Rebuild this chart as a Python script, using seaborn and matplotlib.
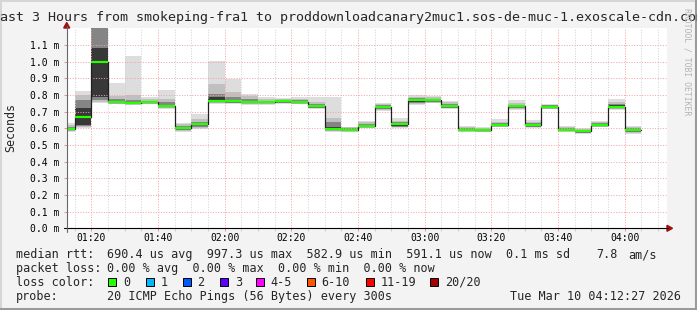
import numpy as np
import pandas as pd
import matplotlib
matplotlib.use("Agg")
import matplotlib.pyplot as plt
import seaborn as sns
from matplotlib.lines import Line2D
from matplotlib.patches import Rectangle, Polygon
from matplotlib.ticker import FixedLocator, FuncFormatter

# ---------------- data (values in ms) ----------------
view_start = "01:12:36"
view_end = "04:12:36"
step_starts = pd.date_range("2026-03-10 01:10", periods=35, freq="5min").strftime("%H:%M").tolist()

median_ms = [0.597, 0.670, 0.997, 0.757, 0.753, 0.756, 0.734, 0.600, 0.626, 0.766,
             0.761, 0.757, 0.757, 0.761, 0.758, 0.731, 0.596, 0.592, 0.614, 0.728,
             0.624, 0.768, 0.768, 0.734, 0.592, 0.588, 0.620, 0.731, 0.620, 0.730,
             0.590, 0.583, 0.620, 0.730, 0.591]
# smoke bands: outer (min..max) -> inner
smoke_lo1 = [0.575, 0.600, 0.750, 0.745, 0.742, 0.745, 0.715, 0.576, 0.595, 0.745,
             0.745, 0.742, 0.742, 0.745, 0.744, 0.716, 0.580, 0.580, 0.600, 0.706,
             0.600, 0.738, 0.750, 0.714, 0.580, 0.576, 0.606, 0.710, 0.600, 0.714,
             0.578, 0.566, 0.605, 0.710, 0.566]
smoke_hi1 = [0.630, 0.826, 2.000, 0.870, 1.034, 0.790, 0.830, 0.632, 0.687, 1.002,
             0.896, 0.806, 0.787, 0.780, 0.786, 0.790, 0.790, 0.610, 0.644, 0.754,
             0.660, 0.800, 0.795, 0.764, 0.614, 0.610, 0.654, 0.770, 0.650, 0.746,
             0.614, 0.600, 0.644, 0.778, 0.614]
smoke_lo2 = [0.582, 0.605, 0.760, 0.748, 0.745, 0.748, 0.720, 0.583, 0.600, 0.750,
             0.750, 0.745, 0.747, 0.749, 0.748, 0.720, 0.586, 0.583, 0.603, 0.712,
             0.605, 0.745, 0.753, 0.719, 0.583, 0.579, 0.609, 0.716, 0.605, 0.718,
             0.581, 0.570, 0.608, 0.715, 0.572]
smoke_hi2 = [0.620, 0.800, 1.800, 0.795, 0.800, 0.775, 0.775, 0.625, 0.655, 0.866,
             0.816, 0.795, 0.775, 0.775, 0.778, 0.755, 0.660, 0.605, 0.636, 0.745,
             0.645, 0.790, 0.785, 0.755, 0.607, 0.603, 0.640, 0.752, 0.640, 0.741,
             0.606, 0.595, 0.636, 0.755, 0.607]
smoke_lo3 = [0.588, 0.612, 0.770, 0.751, 0.748, 0.751, 0.725, 0.590, 0.610, 0.755,
             0.752, 0.750, 0.750, 0.752, 0.751, 0.724, 0.590, 0.586, 0.606, 0.718,
             0.610, 0.752, 0.757, 0.724, 0.586, 0.582, 0.612, 0.722, 0.610, 0.722,
             0.584, 0.574, 0.611, 0.720, 0.578]
smoke_hi3 = [0.610, 0.770, 1.400, 0.775, 0.770, 0.765, 0.755, 0.615, 0.640, 0.806,
             0.785, 0.775, 0.765, 0.768, 0.768, 0.745, 0.640, 0.600, 0.625, 0.738,
             0.635, 0.782, 0.778, 0.746, 0.600, 0.596, 0.630, 0.742, 0.630, 0.737,
             0.599, 0.590, 0.629, 0.746, 0.600]
smoke_lo4 = [0.592, 0.620, 0.790, 0.754, 0.750, 0.753, 0.729, 0.595, 0.618, 0.760,
             0.755, 0.752, 0.753, 0.756, 0.754, 0.727, 0.592, 0.589, 0.609, 0.722,
             0.616, 0.760, 0.762, 0.729, 0.589, 0.585, 0.616, 0.727, 0.615, 0.726,
             0.587, 0.578, 0.615, 0.725, 0.585]
smoke_hi4 = [0.603, 0.720, 1.080, 0.765, 0.760, 0.760, 0.742, 0.607, 0.632, 0.785,
             0.770, 0.765, 0.761, 0.766, 0.763, 0.737, 0.610, 0.596, 0.619, 0.733,
             0.630, 0.775, 0.774, 0.740, 0.596, 0.592, 0.625, 0.737, 0.625, 0.734,
             0.594, 0.587, 0.625, 0.737, 0.596]
smoke_colors = ["#dddddd", "#c0c0c0", "#858585", "#383838"]

y_ticks = [0.0, 0.1, 0.2, 0.3, 0.4, 0.5, 0.6, 0.7, 0.8, 0.9, 1.0, 1.1]
x_major = ["01:20", "01:40", "02:00", "02:20", "02:40", "03:00", "03:20", "03:40", "04:00"]

loss_labels = ["0", "1", "2", "3", "4-5", "6-10", "11-19", "20/20"]
loss_colors = ["#26ff00", "#00b8ff", "#0059ff", "#5e00ff", "#ff00ff", "#ff5500", "#ff0000", "#a00000"]

title = "Last 3 Hours from smokeping-fra1 to proddownloadcanary2muc1.sos-de-muc-1.exoscale-cdn.com"


def to_min(s):
    p = [int(v) for v in s.split(":")]
    while len(p) < 3:
        p.append(0)
    return p[0] * 60 + p[1] + p[2] / 60.0


W, H = 697, 310
sns.set_theme(style="white")
plt.rcParams["font.family"] = ["DejaVu Sans Mono", "DejaVu Sans"]

fig = plt.figure(figsize=(W / 100, H / 100), dpi=100, facecolor="#f3f3f3")


def fx(x):
    return x / W


def fy(y):
    return 1 - y / H


X0, X1, YT, YB = 66.7, 666.7, 27.5, 228.3
PX_PER_MS = 166.7
ax = fig.add_axes([fx(X0), fy(YB), (X1 - X0) / W, (YB - YT) / H])
ax.set_facecolor("white")
x_lo, x_hi = to_min(view_start), to_min(view_end)
ax.set_xlim(x_lo, x_hi)
ax.set_ylim(0, (YB - YT) / PX_PER_MS)

starts = [to_min(s) for s in step_starts]
edges = np.array(starts + [starts[-1] + 5])


def ext(a):
    a = np.asarray(a, float)
    return np.append(a, a[-1])


bands = [(smoke_lo1, smoke_hi1), (smoke_lo2, smoke_hi2), (smoke_lo3, smoke_hi3), (smoke_lo4, smoke_hi4)]
for (lo, hi), c in zip(bands, smoke_colors):
    ax.fill_between(edges, ext(lo), ext(hi), step="post", color=c, lw=0, zorder=1)

df = pd.DataFrame({"t": edges, "median": ext(median_ms)})
sns.lineplot(data=df, x="t", y="median", ax=ax, drawstyle="steps-post",
             color="#202020", lw=0.9, zorder=3, estimator=None)
ax.hlines(median_ms, edges[:-1], edges[1:], colors=loss_colors[0], lw=1.6, zorder=4)

# grid
ax.xaxis.set_major_locator(FixedLocator([to_min(s) for s in x_major]))
minor = np.arange(np.ceil(x_lo / 5) * 5, x_hi, 5)
ax.xaxis.set_minor_locator(FixedLocator(minor))
ax.xaxis.set_major_formatter(FuncFormatter(lambda v, p: "%02d:%02d" % (int(v // 60), int(round(v % 60)))))
ax.set_yticks(y_ticks)
ax.set_yticklabels(["%.1f m" % v for v in y_ticks])
ax.set_axisbelow("line")
ax.grid(which="minor", axis="x", color="#d2d2d2", ls=(0, (1, 1.6)), lw=0.72)
ax.grid(which="major", axis="both", color="#f2a4a4", ls=(0, (1, 1.6)), lw=0.72)
ax.yaxis.grid(True, which="major")
for s in ax.spines.values():
    s.set_visible(False)
ax.tick_params(axis="x", which="both", direction="out", length=2, width=0.7, color="#e89090", pad=1.2,
               labelsize=7.0, bottom=True)
ax.tick_params(axis="x", which="minor", color="#cccccc")
ax.tick_params(axis="y", which="both", direction="out", length=2, width=0.7, color="#e89090", pad=3.2,
               labelsize=7.0, left=True)
for lab in ax.get_xticklabels() + ax.get_yticklabels():
    lab.set_family("DejaVu Sans Mono")
    lab.set_color("black")
ax.set_xlabel("")
ax.set_ylabel("")

# axis lines and arrows
fig.add_artist(Line2D([fx(63.5), fx(668)], [fy(YB), fy(YB)], color="black", lw=0.8, transform=fig.transFigure))
fig.add_artist(Line2D([fx(X0), fx(X0)], [fy(231.5), fy(26)], color="#666666", lw=0.8, transform=fig.transFigure))
arrow_c = "#a01010"
fig.add_artist(Polygon([[fx(667), fy(YB - 3)], [fx(672.5), fy(YB)], [fx(667), fy(YB + 3)]],
                       closed=True, color=arrow_c, transform=fig.transFigure))
fig.add_artist(Polygon([[fx(X0 - 3), fy(28)], [fx(X0), fy(22.5)], [fx(X0 + 3), fy(28)]],
                       closed=True, color=arrow_c, transform=fig.transFigure))

mono = "DejaVu Sans Mono"
fig.text(fx(348.5), fy(18), title, ha="center", va="center", fontsize=9.6, family=mono)
fig.text(fx(11), fy(128), "Seconds", rotation=90, ha="center", va="center", fontsize=8.4, family=mono)
fig.text(fx(686.5), fy(62), "RRDTOOL / TOBI OETIKER", rotation=270, ha="center", va="center",
         fontsize=5.9, family=mono, color="#b4b4b4")

LS = 8.5
rows = [254.5, 268.3, 282.0, 296.3]
fig.text(fx(16), fy(rows[0]), "median rtt:", va="center", fontsize=LS, family=mono)
fig.text(fx(107.3), fy(rows[0]), "690.4 us avg  997.3 us max  582.9 us min  591.1 us now  0.1 ms sd",
         va="center", fontsize=LS, family=mono)
fig.text(fx(596), fy(rows[0]), "7.8", va="center", fontsize=LS, family=mono)
fig.text(fx(628), fy(rows[0]), "am/s", va="center", fontsize=LS, family=mono)
fig.text(fx(16), fy(rows[1]), "packet loss:", va="center", fontsize=LS, family=mono)
fig.text(fx(107.3), fy(rows[1]), "0.00 % avg  0.00 % max  0.00 % min  0.00 % now",
         va="center", fontsize=LS, family=mono)
fig.text(fx(16), fy(rows[2]), "loss color:", va="center", fontsize=LS, family=mono)
sq_x = [108.3, 145.7, 182.7, 220.0, 256.0, 306.7, 365.7, 430.0]
for xs, lab, c in zip(sq_x, loss_labels, loss_colors):
    fig.add_artist(Rectangle((fx(xs), fy(rows[2] + 4.3)), 8 / W, 8.6 / H, facecolor=c,
                             edgecolor="black", lw=0.7, transform=fig.transFigure))
    fig.text(fx(xs + 14.7), fy(rows[2]), lab, va="center", fontsize=LS, family=mono)
fig.text(fx(16), fy(rows[3]), "probe:", va="center", fontsize=LS, family=mono)
fig.text(fx(107.3), fy(rows[3]), "20 ICMP Echo Pings (56 Bytes) every 300s", va="center", fontsize=LS, family=mono)
fig.text(fx(681), fy(rows[3]), "Tue Mar 10 04:12:27 2026", ha="right", va="center", fontsize=LS, family=mono)

# frame
fig.add_artist(Line2D([fx(0), fx(W)], [fy(0.8), fy(0.8)], color="#d6d6d6", lw=1.4, transform=fig.transFigure))
fig.add_artist(Line2D([fx(0.8), fx(0.8)], [fy(0), fy(H)], color="#d6d6d6", lw=1.4, transform=fig.transFigure))
fig.add_artist(Line2D([fx(W - 1.5), fx(W - 1.5)], [fy(0), fy(H)], color="#9a9a9a", lw=2.2, transform=fig.transFigure))
fig.add_artist(Line2D([fx(0), fx(W)], [fy(H - 1.5), fy(H - 1.5)], color="#9a9a9a", lw=2.2, transform=fig.transFigure))

fig.savefig("out.png", dpi=100, facecolor=fig.get_facecolor())
